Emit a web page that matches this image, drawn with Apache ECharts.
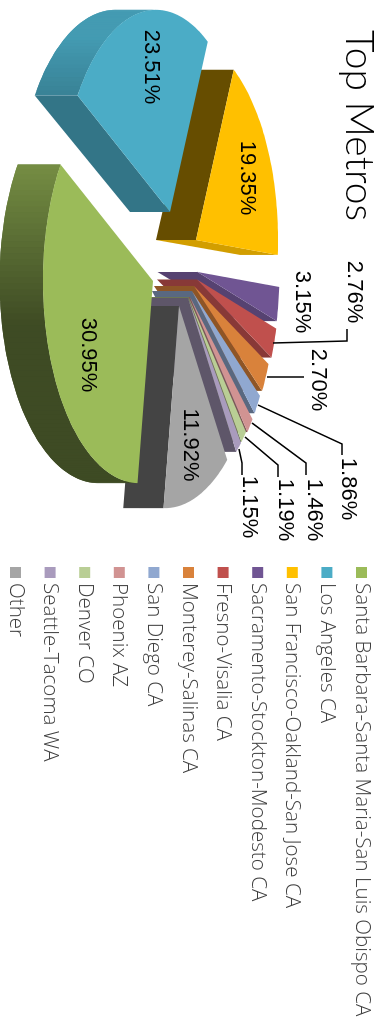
<!DOCTYPE html>
<html><head><meta charset="utf-8">
<script src="https://cdn.jsdelivr.net/npm/echarts@6/dist/echarts.min.js"></script>
<style>html,body{margin:0;padding:0;background:#fff;overflow:hidden}
#c{position:absolute;left:0;top:0;width:1032px;height:383px;transform-origin:0 0;transform:translate(383px,0) rotate(90deg)}</style>
</head><body><div id="c"></div>
<script>
// ---- data ----
const categories = ['Santa Barbara-Santa Maria-San Luis Obispo CA','Los Angeles CA','San Francisco-Oakland-San Jose CA','Sacramento-Stockton-Modesto CA','Fresno-Visalia CA','Monterey-Salinas CA','San Diego CA','Phoenix AZ','Denver CO','Seattle-Tacoma WA','Other'];
const shares = [30.95,23.51,19.35,3.15,2.76,2.70,1.86,1.46,1.19,1.15,11.92];
const colors = ['#9BBB59','#4BACC6','#FFC000','#705593','#C0504D','#D9823B','#90A8D0','#D19392','#B9CE95','#A99BBD','#A5A5A5'];
// ---- pie geometry (page pixels of the upright picture) ----
const firstAngle = 99.2;
const A = 94, B = 200, K = 0.146, DEPTH = 40, DEPTH_SCALE = 1.03;
const apex = [[153,281],[170,212],[196,240],[197.5,272],[197,279.5],[194,286],[192,291],[190,297],[188.5,297],[188,298],[179,306]];
const drawOrder = [3,4,5,6,7,8,9,2,1,10,0];
const labelAt = [[88,355],[151,67],[247.5,178],[302,302],[354,292],[318.5,380],[348.5,489],[314,510],[285.5,510],[249.5,507],[190.5,445]];
const leaders = [null,null,null,null,
 [[273,343],[347,341],[347,329]],
 [[267,377],[304,377]],
 [[258,405],[342,444],[342,455]],
 [[252,423],[306,463],[306,475]],
 [[245,437],[278,465],[278,477]],
 [[239,449],[242,463],[242,475]],null];

const total = shares.reduce((a,b)=>a+b,0);
const spans = []; let acc = firstAngle;
shares.forEach(v=>{const d=v/total*360; spans.push([acc,acc+d]); acc+=d;});
const toChart = p => [p[1], 383-p[0]];
const shade = (hex,f) => {const n=parseInt(hex.slice(1),16);
  return 'rgb('+[(n>>16)&255,(n>>8)&255,n&255].map(c=>Math.round(c*f)).join(',')+')';};
function rimPoint(i,deg){const t=deg*Math.PI/180,c=Math.cos(t),s=Math.sin(t),d=1+K*c;
  return [A*c/d,B*s/d];}
const topP=(i,o)=>[apex[i][0]+o[0],apex[i][1]+o[1]];
const botP=(i,o)=>[apex[i][0]-DEPTH+DEPTH_SCALE*o[0],apex[i][1]+o[1]];
function poly(pts,fill,z2){return {type:'polygon',z2:z2,shape:{points:pts.map(toChart)},style:{fill:fill}};}
function facing(a,b,ab,bb){const tx=b[0]-a[0],ty=b[1]-a[1];
  const dx=(ab[0]-a[0]+bb[0]-b[0])/2,dy=(ab[1]-a[1]+bb[1]-b[1])/2;
  const nx=ty,ny=-tx,l=Math.hypot(nx,ny)||1;
  return {vis:(nx*dx+ny*dy)>0,ny:ny/l};}
function sliceElements(i,rank){
  const [t0,t1]=spans[i],col=colors[i],kids=[];const base=rank*10;
  const arc=[];const steps=Math.max(2,Math.ceil((t1-t0)/1.5));
  for(let k=0;k<=steps;k++)arc.push(t0+(t1-t0)*k/steps);
  const o=[0,0];const o0=rimPoint(i,t0),o1=rimPoint(i,t1);
  [[o,o0],[o1,o]].forEach(e=>{
    const a=topP(i,e[0]),b=topP(i,e[1]),ab=botP(i,e[0]),bb=botP(i,e[1]);
    const f=facing(a,b,ab,bb);
    if(f.vis){const c=shade(col,Math.max(.4,.44+.39*f.ny));kids.push(poly([a,b,bb,ab],c,base+1));}
  });
  // outer wall: overlapping strips so no seams appear between them
  for(let k=0;k<arc.length-1;k++){
    const p=rimPoint(i,arc[k]),q=rimPoint(i,arc[Math.min(k+2,arc.length-1)]),m=rimPoint(i,arc[k+1]);
    const f=facing(topP(i,p),topP(i,m),botP(i,p),botP(i,m));
    if(f.vis){const s=Math.sin((arc[k]+arc[k+1])/2*Math.PI/180);
      const v=Math.min(.9,Math.max(.4,.42+.51*(.15-s)));
      kids.push(poly([topP(i,p),topP(i,m),topP(i,q),botP(i,q),botP(i,m),botP(i,p)],shade(col,v),base+2));}
  }
  kids.push(poly([apex[i]].concat(arc.map(t=>topP(i,rimPoint(i,t)))),col,base+3));
  if(leaders[i])kids.push({type:'polyline',z2:500,shape:{points:leaders[i].map(toChart)},
    style:{stroke:'#000',lineWidth:1.5,fill:null}});
  const c=toChart(labelAt[i]);
  kids.push({type:'text',z2:501,x:c[0],y:c[1],style:{text:shares[i].toFixed(2)+'%',
    fill:'#000',font:'22px "Liberation Sans"',align:'center',verticalAlign:'middle'}});
  return {type:'group',children:kids};
}
const series = drawOrder.map((i,rank)=>({
  type:'custom',name:categories[i],coordinateSystem:'none',silent:true,animation:false,
  itemStyle:{color:colors[i]},data:[[shares[i]]],
  renderItem:()=>sliceElements(i,rank)
}));
const chart = echarts.init(document.getElementById('c'),null,{width:1032,height:383});
chart.setOption({
  backgroundColor:'#fff',animation:false,
  title:{text:'Top Metros',left:30,top:5,padding:0,textStyle:{fontFamily:'Lato',fontWeight:300,fontSize:39,color:'#000'}},
  legend:{orient:'vertical',left:567,top:11,padding:0,itemWidth:11,itemHeight:11,itemGap:13.6,icon:'rect',
    selectedMode:false,data:categories,
    textStyle:{fontFamily:'Open Sans',fontWeight:300,fontSize:20.6,color:'#404040'}},
  series:series
});
</script></body></html>
